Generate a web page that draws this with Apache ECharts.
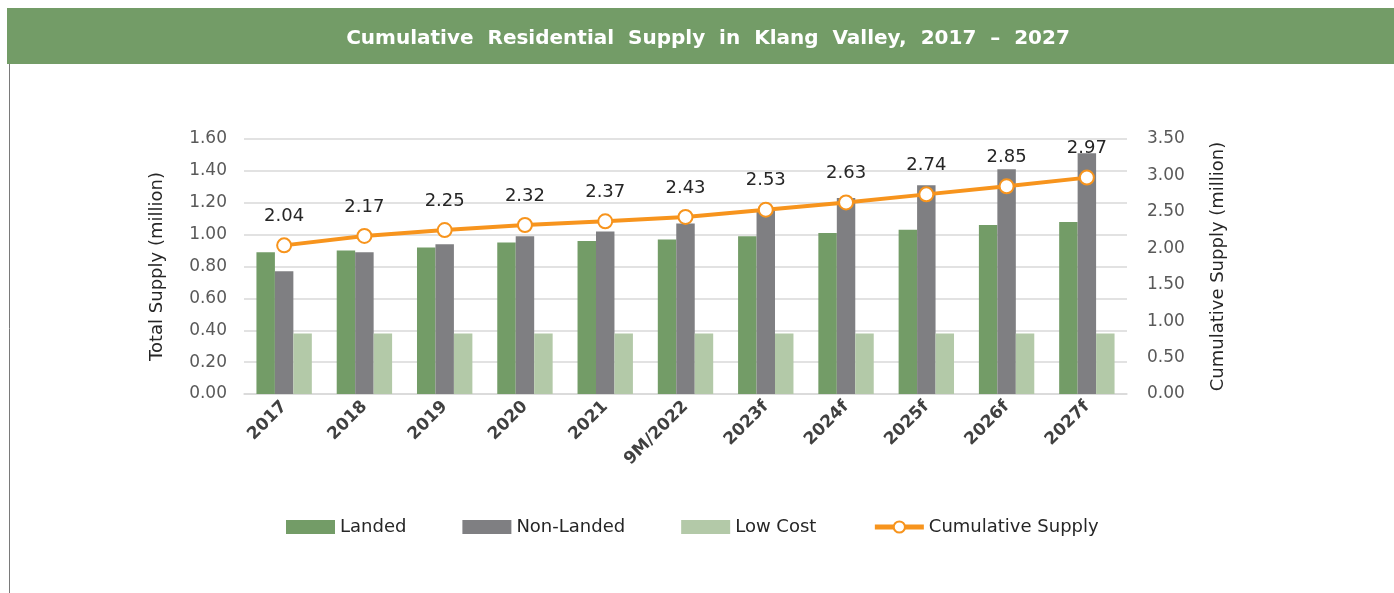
<!DOCTYPE html>
<html>
<head>
<meta charset="utf-8">
<title>Cumulative Residential Supply in Klang Valley</title>
<script src="https://cdn.jsdelivr.net/npm/echarts@6/dist/echarts.min.js"></script>
<style>
  html, body { margin: 0; padding: 0; background: #fff; }
  #chart { width: 1394px; height: 593px; }
</style>
</head>
<body>
<div id="chart"></div>
<script>
// data
const categories = ['2017', '2018', '2019', '2020', '2021', '9M/2022', '2023f', '2024f', '2025f', '2026f', '2027f'];
const landed = [0.89, 0.90, 0.92, 0.95, 0.96, 0.97, 0.99, 1.01, 1.03, 1.06, 1.08];
const nonLanded = [0.77, 0.89, 0.94, 0.99, 1.02, 1.07, 1.15, 1.23, 1.31, 1.41, 1.51];
const lowCost = [0.38, 0.38, 0.38, 0.38, 0.38, 0.38, 0.38, 0.38, 0.38, 0.38, 0.38];
const cumulative = [2.04, 2.17, 2.25, 2.32, 2.37, 2.43, 2.53, 2.63, 2.74, 2.85, 2.97];

const FONT = '"DejaVu Sans", sans-serif';
const GREEN = '#739c67';
const GREY = '#7f7f82';
const LIGHT = '#b3c9a8';
const ORANGE = '#f7941d';

const chart = echarts.init(document.getElementById('chart'));

const option = {
  animation: false,
  textStyle: { fontFamily: FONT },
  graphic: [
    // header band
    {
      type: 'rect',
      shape: { x: 7, y: 8, width: 1387, height: 56 },
      style: { fill: GREEN },
      silent: true
    },
    {
      type: 'text',
      x: 708,
      y: 39,
      style: {
        text: 'Cumulative  Residential  Supply  in  Klang  Valley,  2017  \u2013  2027',
        fill: '#fff',
        font: 'bold 20px ' + FONT,
        align: 'center',
        verticalAlign: 'middle'
      },
      silent: true
    },
    // left border
    {
      type: 'line',
      shape: { x1: 9.5, y1: 64, x2: 9.5, y2: 593 },
      style: { stroke: '#7a7a7a', lineWidth: 1 },
      silent: true
    }
  ],
  legend: {
    bottom: 52,
    left: 281,
    itemWidth: 49,
    itemHeight: 14,
    itemGap: 56,
    textStyle: { fontSize: 18, color: '#262626' },
    data: [
      { name: 'Landed', icon: 'rect' },
      { name: 'Non-Landed', icon: 'rect' },
      { name: 'Low Cost', icon: 'rect' },
      { name: 'Cumulative Supply', lineStyle: { width: 5 } }
    ]
  },
  grid: {
    left: 244,
    right: 267,
    top: 139,
    bottom: 199
  },
  xAxis: {
    type: 'category',
    data: categories,
    axisLine: { lineStyle: { color: '#d9d9d9', width: 1.5 } },
    axisTick: { show: false },
    axisLabel: {
      rotate: 45,
      margin: 10,
      fontSize: 17,
      fontWeight: 'bold',
      color: '#404040',
      interval: 0
    }
  },
  yAxis: [
    {
      type: 'value',
      min: 0,
      max: 1.6,
      interval: 0.2,
      name: 'Total Supply (million)',
      nameLocation: 'middle',
      nameGap: 78,
      nameTextStyle: { fontSize: 18, color: '#262626' },
      axisLabel: {
        margin: 17,
        fontSize: 17,
        color: '#595959',
        formatter: v => v.toFixed(2)
      },
      splitLine: { lineStyle: { color: '#d9d9d9', width: 1.5 } },
      axisLine: { show: false },
      axisTick: { show: false }
    },
    {
      type: 'value',
      min: 0,
      max: 3.5,
      interval: 0.5,
      name: 'Cumulative Supply (million)',
      nameLocation: 'middle',
      nameGap: 82,
      nameRotate: 90,
      nameTextStyle: { fontSize: 18, color: '#262626' },
      axisLabel: {
        margin: 20,
        fontSize: 17,
        color: '#595959',
        formatter: v => v.toFixed(2)
      },
      splitLine: { show: false },
      axisLine: { show: false },
      axisTick: { show: false }
    }
  ],
  series: [
    {
      name: 'Landed',
      type: 'bar',
      data: landed,
      barGap: '0%',
      barCategoryGap: '31%',
      itemStyle: { color: GREEN }
    },
    {
      name: 'Non-Landed',
      type: 'bar',
      data: nonLanded,
      itemStyle: { color: GREY }
    },
    {
      name: 'Low Cost',
      type: 'bar',
      data: lowCost,
      itemStyle: { color: LIGHT }
    },
    {
      name: 'Cumulative Supply',
      type: 'line',
      yAxisIndex: 1,
      data: cumulative,
      symbol: 'circle',
      symbolSize: 14,
      lineStyle: { color: ORANGE, width: 4 },
      itemStyle: { color: '#fff', borderColor: ORANGE, borderWidth: 2 },
      label: {
        show: true,
        position: 'top',
        distance: 12,
        fontSize: 18,
        color: '#262626',
        formatter: p => p.value.toFixed(2)
      },
      z: 5
    }
  ]
};

chart.setOption(option);
</script>
</body>
</html>
